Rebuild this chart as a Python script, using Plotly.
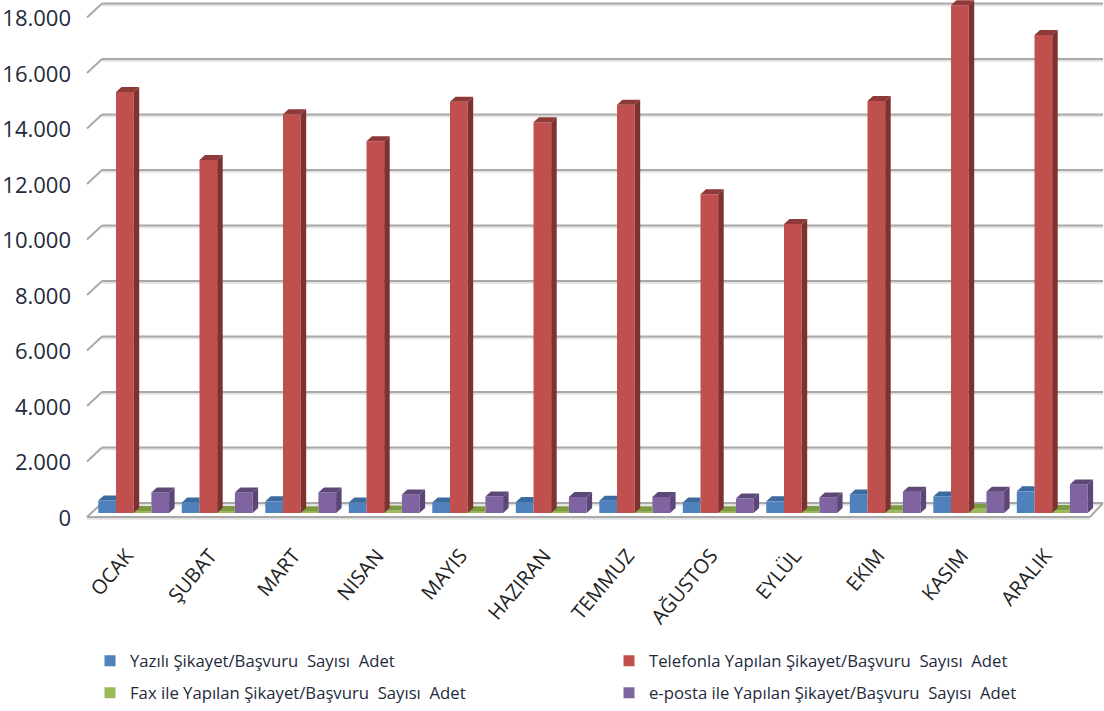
import plotly.graph_objects as go

months = ["OCAK", "ŞUBAT", "MART", "NISAN", "MAYIS", "HAZIRAN", "TEMMUZ", "AĞUSTOS", "EYLÜL", "EKIM", "KASIM", "ARALIK"]
yazili = [450, 380, 420, 380, 380, 400, 440, 380, 420, 670, 595, 780]
telefon = [15170, 12720, 14370, 13400, 14820, 14080, 14710, 11490, 10410, 14850, 18300, 17225]
fax = [70, 70, 60, 90, 60, 60, 60, 60, 70, 100, 150, 110]
eposta = [740, 740, 740, 670, 595, 580, 580, 520, 560, 770, 770, 1030]
grid_vals = [0, 2000, 4000, 6000, 8000, 10000, 12000, 14000, 16000, 18000]
tick_text = ["0", "2.000", "4.000", "6.000", "8.000", "10.000", "12.000", "14.000", "16.000", "18.000"]
names = ["Yazılı Şikayet/Başvuru\u00a0 Sayısı\u00a0 Adet",
         "Telefonla Yapılan Şikayet/Başvuru\u00a0 Sayısı\u00a0 Adet",
         "Fax ile Yapılan Şikayet/Başvuru\u00a0 Sayısı\u00a0 Adet",
         "e-posta ile Yapılan Şikayet/Başvuru\u00a0 Sayısı\u00a0 Adet"]

WIDTH, HEIGHT = 1104, 711
PX_X = 83.5
PX_Y = 0.02775
L, B, PLOT_H = 75, 186, 525
x0_px, y0_px, y_label0 = 133.7, 513, 518
W = 17.7 / PX_X
DX, DY = 5.5 / PX_X, 5 / PX_Y
x = list(range(len(months)))
xrange_ = [(L - x0_px) / PX_X, (WIDTH - x0_px) / PX_X]


def px2x(p):
    return (p - x0_px) / PX_X


def py2y(p):
    return (y0_px - p) / PX_Y


fig = go.Figure()
series = [
    (yazili, 0, "#4f81bd", "#3d6a9f", "#3d6a9f", False),
    (fax, 2, "#9bbb59", "#7d9a42", "#7d9a42", False),
    (eposta, 3, "#8064a2", "#5d4878", "#5b4677", True),
    (telefon, 1, "#c0504d", "#8f3a38", "#7d3231", True),
]
for vals, k, col, topc, sidec, full in series:
    off = -2 * W + k * W
    fig.add_trace(go.Bar(x=x, y=vals, width=W, offset=off, marker=dict(color=col, line=dict(width=0)),
                         yaxis="y2", showlegend=False, hoverinfo="skip"))
for vals, k, col, topc, sidec, full in series:
    off = -2 * W + k * W
    tx, ty, sx, sy = [], [], [], []
    for i, v in zip(x, vals):
        a, b = i + off, i + off + W
        right = b + DX if full else b
        tx += [a, a + DX, right, b, a, None]
        ty += [v, v + DY, v + DY, v, v, None]
        if full:
            sx += [b, b + DX, b + DX, b, b, None]
            sy += [0, DY, v + DY, v, 0, None]
    fig.add_trace(go.Scatter(x=tx, y=ty, mode="lines", fill="toself", fillcolor=topc, line=dict(width=0),
                             yaxis="y2", showlegend=False, hoverinfo="skip"))
    if full:
        fig.add_trace(go.Scatter(x=sx, y=sy, mode="lines", fill="toself", fillcolor=sidec, line=dict(width=0),
                                 yaxis="y2", showlegend=False, hoverinfo="skip"))

legend_pos = [(90, 661), (609, 661), (90, 693), (609, 693)]
legend_cols = ["#4f81bd", "#c0504d", "#9bbb59", "#8064a2"]
legend_ids = ["legend", "legend2", "legend3", "legend4"]
for nm, c, lid in zip(names, legend_cols, legend_ids):
    fig.add_trace(go.Scatter(x=[None], y=[None], mode="markers", name=nm, legend=lid, showlegend=True,
                             marker=dict(symbol="square", size=11, color=c)))

shapes = []
GRID = "#a9a9a9"
back_l, back_r, front_l, front_r = px2x(102), px2x(1103), px2x(87), px2x(1090)
back_dy = 10 / PX_Y
front_dy = -4 / PX_Y
for v in grid_vals:
    yb, yf = v + back_dy, v + front_dy
    shapes.append(dict(type="line", xref="x", yref="y2", layer="below", x0=back_l, x1=back_r, y0=yb - 60, y1=yb - 60,
                       line=dict(color="#e2e2e2", width=2)))
    shapes.append(dict(type="line", xref="x", yref="y2", layer="below", x0=back_l, x1=back_r, y0=yb, y1=yb,
                       line=dict(color=GRID, width=2)))
    shapes.append(dict(type="line", xref="x", yref="y2", layer="below", x0=front_l, x1=back_l, y0=yf, y1=yb,
                       line=dict(color=GRID, width=2)))
shapes.append(dict(type="line", xref="x", yref="y2", layer="below", x0=front_l, x1=front_r, y0=front_dy - 60, y1=front_dy - 60,
                   line=dict(color="#e2e2e2", width=2)))
shapes.append(dict(type="line", xref="x", yref="y2", layer="below", x0=front_l, x1=front_r, y0=front_dy, y1=front_dy,
                   line=dict(color=GRID, width=2)))
shapes.append(dict(type="line", xref="x", yref="y2", layer="below", x0=front_r, x1=back_r, y0=front_dy, y1=back_dy,
                   line=dict(color=GRID, width=2)))

legend_font = dict(family="Open Sans", size=16.7, color="#1e2a3c")
layout_legends = {}
for lid, (px, py) in zip(legend_ids, legend_pos):
    layout_legends[lid] = dict(x=(px - L) / (WIDTH - L), y=(PLOT_H - py) / PLOT_H, xanchor="left", yanchor="middle",
                               itemwidth=30, font=legend_font, bgcolor="rgba(0,0,0,0)", borderwidth=0,
                               itemclick=False, itemdoubleclick=False)

tick_shift = 7 / PX_X
fig.update_layout(
    width=WIDTH, height=HEIGHT, autosize=False, barmode="overlay",
    paper_bgcolor="white", plot_bgcolor="white",
    margin=dict(l=L, r=0, t=0, b=B, pad=0, autoexpand=False),
    xaxis=dict(range=xrange_, tickmode="array", tickvals=[i - tick_shift for i in x], ticktext=months, tickangle=-50,
               showgrid=False, zeroline=False, showline=False, ticks="", ticklabelstandoff=14, automargin=False,
               tickfont=dict(family="Open Sans", size=20, color="#222222")),
    yaxis=dict(range=[-(PLOT_H - y_label0) / PX_Y, y_label0 / PX_Y], tickmode="array", tickvals=grid_vals, ticktext=tick_text,
               showgrid=False, zeroline=False, showline=False, ticks="", automargin=False, ticklabelstandoff=3,
               tickfont=dict(family="Open Sans", size=22, color="#1e2a3c")),
    yaxis2=dict(range=[py2y(PLOT_H), py2y(0)], overlaying="y", side="left", showticklabels=False, showgrid=False, zeroline=False,
                showline=False, ticks=""),
    shapes=shapes,
    hovermode=False,
    **layout_legends,
)
fig.write_html("out.html", post_script="document.body.style.margin='0';", config={"displayModeBar": False})
